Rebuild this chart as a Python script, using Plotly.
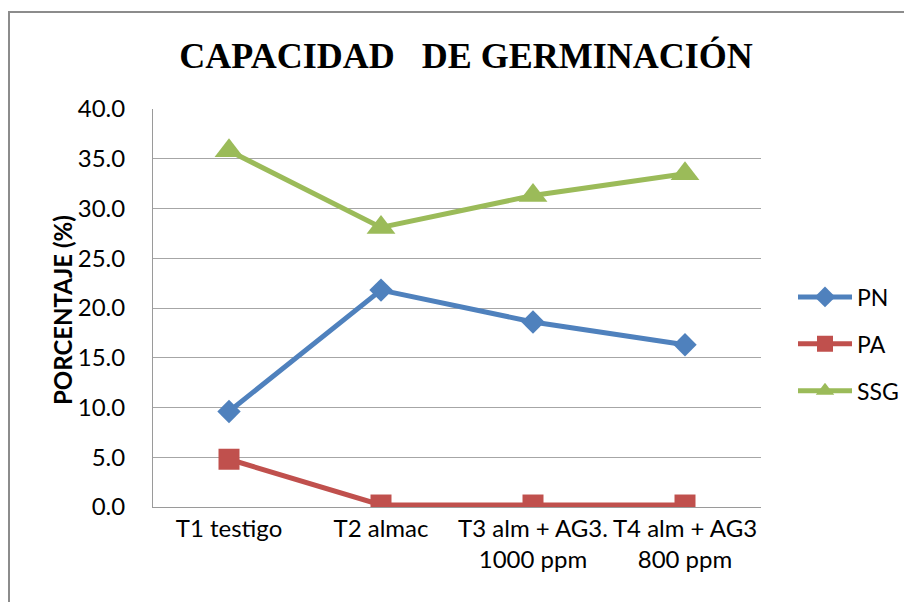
import plotly.graph_objects as go

categories = ["T1 testigo", "T2 almac", "T3 alm + AG3.<br>1000 ppm", "T4 alm + AG3<br>800 ppm"]
pn = [9.6, 21.8, 18.6, 16.3]
pa = [4.8, 0.2, 0.2, 0.2]
ssg = [35.8, 28.1, 31.3, 33.5]
y_ticks = [0, 5, 10, 15, 20, 25, 30, 35, 40]
y_tick_labels = [f"{v:.1f}" for v in y_ticks]

FONT = "Lato, 'Open Sans', sans-serif"
FS = 24

fig = go.Figure()
series = [
    ("PN", pn, "#4F81BD", "diamond", 18),
    ("PA", pa, "#C0504D", "square", 21),
    ("SSG", ssg, "#9BBB59", "triangle-up", 25),
]
for name, vals, col, sym, size in series:
    fig.add_trace(go.Scatter(
        x=categories, y=vals, name=name, mode="lines+markers",
        line=dict(color=col, width=5),
        marker=dict(symbol=sym, size=size, color=col),
        legendgroup=name,
    ))

# page body has an 8px default margin; figure coords = screen - 8
W, H = 904, 594
L, T = 145, 101
R = W - 753
B = H - 499
pw, ph = W - L - R, H - T - B

fig.update_layout(
    width=W, height=H,
    margin=dict(l=L, r=R, t=T, b=B, autoexpand=False),
    paper_bgcolor="white", plot_bgcolor="white",
    font=dict(family=FONT, size=FS, color="#000000"),
    title=dict(
        text="<b>CAPACIDAD\u00a0\u00a0\u00a0DE GERMINACIÓN</b>",
        font=dict(family="'Liberation Serif', 'Times New Roman', serif", size=36, color="#000000"),
        x=458 / W, xref="container", xanchor="center",
        y=1 - 47 / H, yref="container", yanchor="middle",
    ),
    showlegend=True,
    legend=dict(
        x=(785 - L) / pw, xanchor="left", xref="paper",
        y=(H - B - 336) / ph, yanchor="middle", yref="paper",
        font=dict(family=FONT, size=23),
        traceorder="grouped", tracegroupgap=14,
        itemwidth=54, bgcolor="rgba(0,0,0,0)",
    ),
    xaxis=dict(
        type="category", range=[-0.5, 3.5],
        showgrid=False, showline=True, linecolor="#9a9a9a", linewidth=1,
        ticks="", tickfont=dict(family=FONT, size=FS), tickangle=0,
        zeroline=False, automargin=False,
    ),
    yaxis=dict(
        range=[0, 40], tickvals=y_ticks, ticktext=y_tick_labels,
        showgrid=True, gridcolor="#a6a6a6", gridwidth=1,
        showline=True, linecolor="#9a9a9a", linewidth=1,
        ticks="", ticklabelstandoff=22, automargin=False,
        tickfont=dict(family=FONT, size=FS), zeroline=False,
    ),
    annotations=[dict(
        text="<b>PORCENTAJE (%)</b>", textangle=-90,
        x=(54 - L) / pw, y=(H - B - 302) / ph, xref="paper", yref="paper",
        xanchor="center", yanchor="middle", showarrow=False,
        font=dict(family=FONT, size=24),
    )],
    shapes=[dict(
        type="rect", xref="paper", yref="paper",
        x0=(1 - L) / pw, x1=(W + 20 - L) / pw,
        y0=-(B + 20) / ph, y1=(H - B - 4) / ph,
        line=dict(color="#8c8c8c", width=2), fillcolor="rgba(0,0,0,0)",
        layer="below",
    )],
)

fig.write_html("out.html")
